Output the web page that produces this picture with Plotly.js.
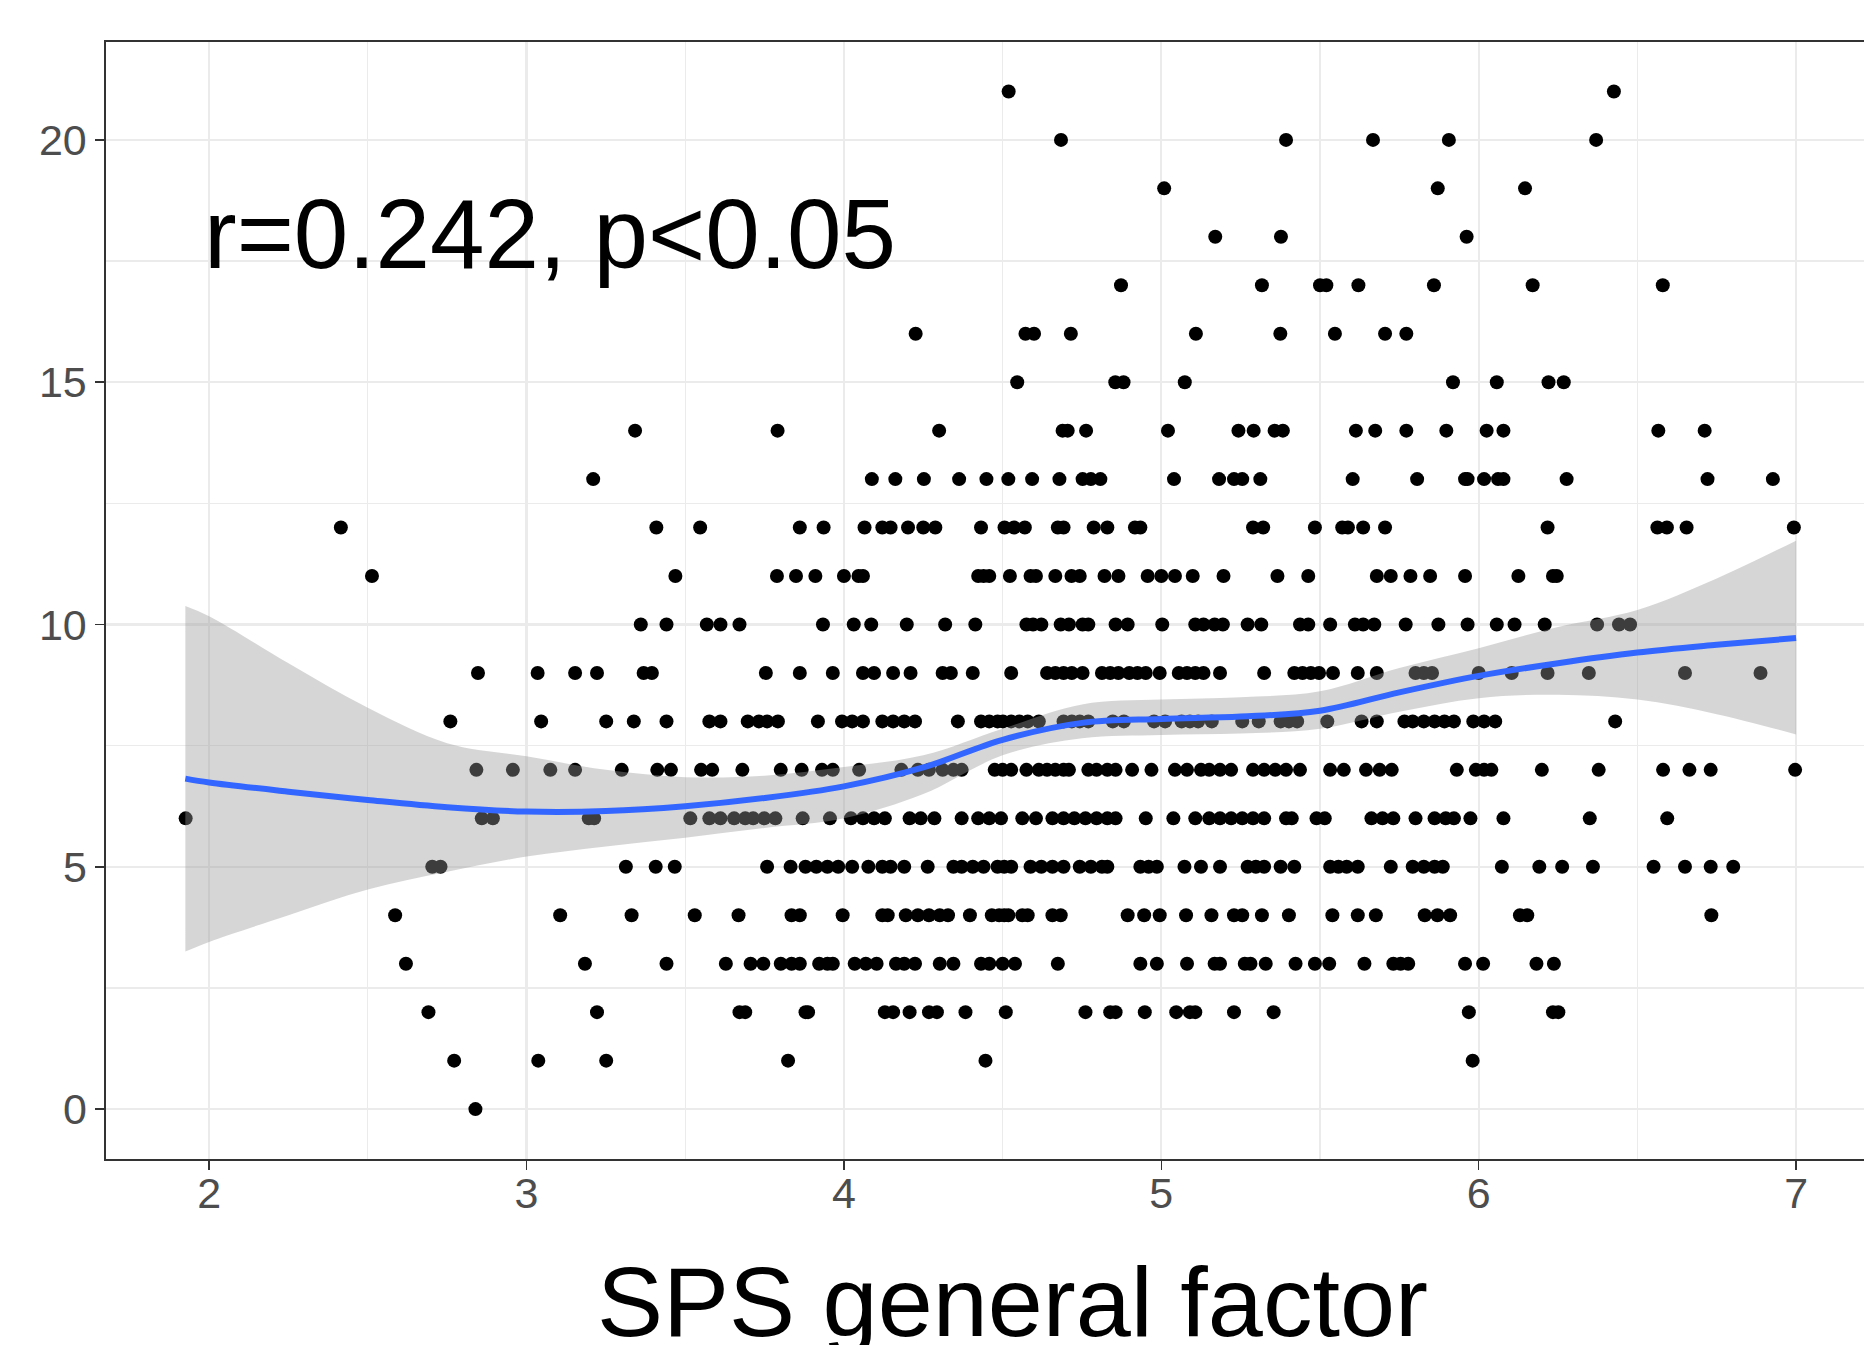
<!DOCTYPE html>
<html>
<head>
<meta charset="utf-8">
<script src="https://cdn.plot.ly/plotly-3.0.1.min.js"></script>
<style>html,body{margin:0;padding:0;background:#fff;}#chart{width:1864px;height:1345px;}</style>
</head>
<body>
<div id="chart"></div>
<script>
// Score values (y) and the SPS general factor values (x) of the points at each score
const scoreLevels = [0,1,2,3,4,5,6,7,8,9,10,11,12,13,14,15,16,17,18,19,20,21];
const sps0 = [2.839];
const sps1 = [2.772,3.037,3.251,3.824,4.446,5.981];
const sps2 = [2.691,3.222,3.671,3.689,3.879,3.887,4.129,4.155,4.207,4.268,4.293,4.383,4.510,4.761,4.839,4.856,4.948,5.047,5.090,5.107,5.229,5.354,5.969,6.234,6.251];
const sps3 = [2.620,3.184,3.441,3.628,3.706,3.746,3.801,3.835,3.861,3.922,3.948,3.965,4.034,4.069,4.103,4.164,4.190,4.224,4.302,4.345,4.432,4.458,4.500,4.539,4.674,4.934,4.986,5.081,5.168,5.185,5.263,5.281,5.329,5.423,5.484,5.529,5.640,5.731,5.754,5.778,5.957,6.014,6.182,6.237];
const sps4 = [2.586,3.106,3.331,3.530,3.668,3.835,3.861,3.996,4.121,4.138,4.195,4.233,4.268,4.302,4.328,4.397,4.466,4.489,4.505,4.518,4.562,4.579,4.657,4.683,4.894,4.946,4.995,5.078,5.158,5.229,5.255,5.317,5.402,5.539,5.619,5.676,5.830,5.870,5.910,6.130,6.153,6.733];
const sps5 = [2.703,2.729,3.313,3.407,3.467,3.758,3.832,3.879,3.913,3.948,3.982,4.026,4.077,4.121,4.147,4.190,4.264,4.345,4.371,4.406,4.440,4.484,4.505,4.527,4.588,4.622,4.657,4.692,4.743,4.778,4.813,4.830,4.934,4.960,4.986,5.073,5.125,5.185,5.272,5.298,5.324,5.376,5.419,5.532,5.558,5.584,5.619,5.723,5.792,5.827,5.861,5.887,6.073,6.191,6.263,6.360,6.551,6.650,6.731,6.802];
const sps6 = [1.926,2.859,2.894,3.196,3.213,3.516,3.576,3.611,3.654,3.689,3.714,3.749,3.784,3.870,3.956,4.022,4.060,4.095,4.129,4.207,4.242,4.285,4.371,4.423,4.458,4.495,4.562,4.605,4.657,4.692,4.726,4.761,4.796,4.830,4.856,4.951,5.038,5.107,5.151,5.185,5.220,5.255,5.289,5.324,5.393,5.411,5.489,5.515,5.662,5.697,5.731,5.801,5.861,5.896,5.922,5.974,6.078,6.350,6.594];
const sps7 = [2.842,2.957,3.075,3.153,3.300,3.412,3.455,3.550,3.585,3.680,3.801,3.867,3.931,3.965,4.048,4.181,4.233,4.268,4.311,4.345,4.371,4.475,4.500,4.527,4.575,4.614,4.640,4.666,4.692,4.709,4.770,4.796,4.830,4.856,4.908,4.969,5.043,5.081,5.125,5.151,5.185,5.220,5.289,5.324,5.359,5.393,5.437,5.532,5.575,5.645,5.688,5.726,5.931,5.991,6.017,6.040,6.199,6.378,6.581,6.664,6.731,6.997];
const sps8 = [2.760,3.046,3.251,3.338,3.441,3.576,3.611,3.697,3.732,3.758,3.792,3.918,3.994,4.026,4.060,4.121,4.155,4.190,4.224,4.359,4.432,4.458,4.484,4.501,4.527,4.553,4.579,4.614,4.692,4.718,4.743,4.770,4.847,4.882,4.977,5.012,5.064,5.090,5.116,5.159,5.255,5.307,5.376,5.402,5.428,5.523,5.631,5.679,5.766,5.792,5.827,5.861,5.892,5.922,5.983,6.017,6.052,6.430];
const sps9 = [2.847,3.035,3.153,3.222,3.369,3.395,3.754,3.861,3.965,4.060,4.095,4.155,4.210,4.311,4.337,4.406,4.527,4.640,4.666,4.692,4.718,4.752,4.813,4.839,4.865,4.899,4.925,4.951,4.995,5.055,5.081,5.107,5.133,5.185,5.324,5.419,5.445,5.471,5.497,5.541,5.619,5.679,5.801,5.827,5.853,6.000,6.104,6.217,6.347,6.650,6.888];
const sps10 = [3.360,3.441,3.568,3.611,3.671,3.934,4.031,4.086,4.198,4.319,4.414,4.575,4.596,4.622,4.683,4.709,4.752,4.770,4.856,4.894,5.003,5.107,5.133,5.168,5.194,5.272,5.315,5.437,5.463,5.532,5.610,5.636,5.671,5.770,5.873,5.965,6.057,6.113,6.208,6.373,6.442,6.477];
const sps11 = [2.513,3.469,3.789,3.849,3.910,4.000,4.046,4.060,4.423,4.440,4.458,4.523,4.588,4.605,4.666,4.717,4.743,4.821,4.865,4.957,5.000,5.043,5.099,5.196,5.366,5.463,5.679,5.723,5.785,5.847,5.957,6.125,6.234,6.246];
const sps12 = [2.415,3.409,3.547,3.861,3.936,4.065,4.121,4.147,4.202,4.250,4.288,4.432,4.506,4.536,4.570,4.674,4.692,4.787,4.830,4.917,4.934,5.289,5.321,5.484,5.570,5.588,5.636,5.705,6.217,6.563,6.593,6.655,6.993];
const sps13 = [3.210,4.088,4.162,4.252,4.363,4.449,4.518,4.593,4.679,4.752,4.778,4.808,5.040,5.182,5.229,5.255,5.312,5.603,5.806,5.957,5.965,6.017,6.061,6.078,6.277,6.721,6.927];
const sps14 = [3.342,3.791,4.300,4.689,4.705,4.763,5.021,5.243,5.291,5.357,5.383,5.613,5.674,5.772,5.898,6.025,6.078,6.566,6.712];
const sps15 = [4.546,4.855,4.881,5.074,5.919,6.057,6.220,6.268];
const sps16 = [4.226,4.572,4.599,4.715,5.109,5.375,5.547,5.705,5.772];
const sps17 = [4.873,5.317,5.500,5.520,5.621,5.859,6.170,6.580];
const sps18 = [5.170,5.377,5.962];
const sps19 = [5.009,5.871,6.146];
const sps20 = [4.684,5.393,5.667,5.906,6.370];
const sps21 = [4.519,6.426];
const spsByScore = [sps0,sps1,sps2,sps3,sps4,sps5,sps6,sps7,sps8,sps9,sps10,sps11,sps12,sps13,sps14,sps15,sps16,sps17,sps18,sps19,sps20,sps21];

// Smoothed fit and its confidence band
const fitX     = [1.925,2.0,2.25,2.5,2.75,3.0,3.25,3.5,3.75,4.0,4.25,4.5,4.75,5.0,5.25,5.5,5.75,6.0,6.25,6.5,6.75,7.0];
const fitY     = [6.82,6.74,6.55,6.38,6.23,6.14,6.15,6.25,6.42,6.66,7.05,7.62,7.97,8.05,8.10,8.22,8.60,8.94,9.20,9.42,9.58,9.72];
const fitUpper = [10.38,10.17,9.20,8.28,7.55,7.28,7.00,6.85,6.88,7.06,7.30,7.85,8.35,8.45,8.50,8.62,9.10,9.51,9.95,10.30,10.95,11.73];
const fitLower = [3.25,3.45,4.00,4.53,4.90,5.21,5.42,5.60,5.80,6.00,6.50,7.30,7.65,7.72,7.75,7.85,8.20,8.48,8.55,8.45,8.15,7.73];

const xTicks = [2,3,4,5,6,7];
const yTicks = [0,5,10,15,20];
const annotationText = "r=0.242, p<0.05";
const xTitle = "SPS general factor";

const px = [], py = [];
spsByScore.forEach((arr, i) => arr.forEach(v => { px.push(v); py.push(scoreLevels[i]); }));

const FONT = "Liberation Sans, Arial, Helvetica, sans-serif";

const traces = [
  {x: px, y: py, type: 'scatter', mode: 'markers',
   marker: {color: '#000000', size: 14, line: {width: 0}}, hoverinfo: 'skip', showlegend: false},
  {x: fitX, y: fitLower, type: 'scatter', mode: 'lines', line: {width: 0, shape: 'spline', color: 'rgba(0,0,0,0)'},
   hoverinfo: 'skip', showlegend: false},
  {x: fitX, y: fitUpper, type: 'scatter', mode: 'lines', line: {width: 0, shape: 'spline', color: 'rgba(0,0,0,0)'},
   fill: 'tonexty', fillcolor: 'rgba(153,153,153,0.4)', hoverinfo: 'skip', showlegend: false},
  {x: fitX, y: fitY, type: 'scatter', mode: 'lines', line: {width: 6, shape: 'spline', color: '#3366FF'},
   hoverinfo: 'skip', showlegend: false}
];

const layout = {
  width: 1864, height: 1345,
  margin: {l: 106, r: 0, t: 42, b: 186, pad: 0},
  paper_bgcolor: '#ffffff', plot_bgcolor: '#ffffff',
  showlegend: false,
  font: {family: FONT},
  xaxis: {
    range: [1.675, 7.214], tickvals: xTicks, ticktext: xTicks.map(String),
    showgrid: true, gridcolor: '#EBEBEB', gridwidth: 2.2,
    minor: {dtick: 0.5, tick0: 0, showgrid: true, gridcolor: '#EBEBEB', gridwidth: 1.2, ticks: ''},
    zeroline: false, showline: true, mirror: true, linecolor: '#333333', linewidth: 1.6,
    ticks: 'outside', ticklen: 9, tickwidth: 1.6, tickcolor: '#333333',
    ticklabelstandoff: -13,
    tickfont: {size: 43, color: '#4D4D4D', family: FONT}
  },
  yaxis: {
    range: [-1.03, 22.02], tickvals: yTicks, ticktext: yTicks.map(String),
    showgrid: true, gridcolor: '#EBEBEB', gridwidth: 2.2,
    minor: {dtick: 2.5, tick0: 0, showgrid: true, gridcolor: '#EBEBEB', gridwidth: 1.2, ticks: ''},
    zeroline: false, showline: true, mirror: false, linecolor: '#333333', linewidth: 1.6,
    ticks: 'outside', ticklen: 9, tickwidth: 1.6, tickcolor: '#333333',
    tickfont: {size: 43, color: '#4D4D4D', family: FONT}
  },
  annotations: [
    {text: annotationText, x: 1.977, y: 18.05, xref: 'x', yref: 'y', xanchor: 'left', yanchor: 'middle',
     showarrow: false, font: {size: 98, color: '#000000', family: FONT}},
    {text: xTitle, x: 0.5154, y: -0.0761, xref: 'paper', yref: 'paper', xanchor: 'center', yanchor: 'top',
     showarrow: false, font: {size: 99, color: '#000000', family: FONT}}
  ]
};

Plotly.newPlot('chart', traces, layout, {staticPlot: true, displayModeBar: false});
</script>
</body>
</html>
